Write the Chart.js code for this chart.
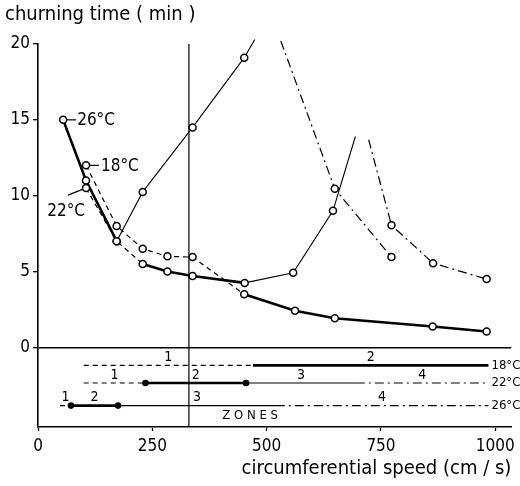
<!DOCTYPE html>
<html><head><meta charset="utf-8">
<script src="https://cdn.jsdelivr.net/npm/chart.js@4.4.1/dist/chart.umd.min.js"></script>
<style>html,body{margin:0;padding:0;background:#fff}</style>
</head><body>
<canvas id="c" width="520" height="486"></canvas>
<script>
const FONT = '"DejaVu Sans Condensed", "DejaVu Sans", sans-serif';

// Axis ticks
const xTicks = [0, 250, 500, 750, 1000];
const yTicks = [0, 5, 10, 15, 20];

// 18 °C
const speed18 = [105, 172, 229, 283, 338, 451, 562, 649, 863, 981];
const time18  = [12.0, 8.0, 6.5, 6.0, 5.95, 3.5, 2.42, 1.92, 1.38, 1.05];
// 22 °C, zones 1-3 (runs off upward)
const speed22a = [105, 172, 229, 283, 338, 452, 558, 645];
const time22a  = [10.5, 7.0, 5.5, 5.0, 4.7, 4.25, 4.92, 9.0];
const tail22a  = [694, 13.9];
// 22 °C, zone 4 (comes down from above)
const head22b  = [723, 13.7];
const speed22b = [773, 864, 981];
const time22b  = [8.05, 5.55, 4.5];
// 26 °C, zones 1-3
const speed26a = [55, 105, 172, 229, 338, 451];
const time26a  = [15.0, 11.0, 7.0, 10.25, 14.5, 19.1];
const tail26a  = [474, 20.3];
// 26 °C, zone 4
const head26b  = [531, 20.2];
const speed26b = [649, 773];
const time26b  = [10.45, 5.95];

// Zone boundaries (cm/s)
const zones18 = [100, 470, 985];
const zones22 = [100, 235, 455, 695, 985];
const zones26 = [48, 72, 175, 520, 985];
const dividerSpeed = 330;

const zoneStyle = {
  1: {w: 1.2, d: [5, 4]},
  2: {w: 2.6, d: []},
  3: {w: 1.1, d: []},
  4: {w: 1.2, d: [9, 4, 2, 4]}
};
function zoneOf(b, x) { for (let i = 1; i < b.length; i++) { if (x <= b[i]) return i; } return b.length - 1; }

function pts(xs, ys, head, tail) {
  const a = xs.map((v, i) => ({x: v, y: ys[i], m: true}));
  if (head) a.unshift({x: head[0], y: head[1], m: false});
  if (tail) a.push({x: tail[0], y: tail[1], m: false});
  return a;
}
function curve(data, bounds) {
  const mid = c => (c.p0.parsed.x + c.p1.parsed.x) / 2;
  return {
    data, borderColor: '#000', borderWidth: 1.2,
    pointRadius: c => (c.raw && c.raw.m) ? 3.5 : 0,
    pointHoverRadius: 0,
    pointBorderWidth: 1.5, pointBorderColor: '#000', pointBackgroundColor: '#fff',
    segment: {
      borderWidth: c => zoneStyle[zoneOf(bounds, mid(c))].w,
      borderDash: c => zoneStyle[zoneOf(bounds, mid(c))].d
    },
    clip: false, tension: 0, fill: false
  };
}
function zoneRow(bounds, rowY, dotZone) {
  const out = [];
  for (let i = 1; i < bounds.length; i++) {
    const s = zoneStyle[i];
    out.push({
      data: [{x: bounds[i - 1], y: rowY}, {x: bounds[i], y: rowY}],
      borderColor: '#000', borderWidth: s.w, borderDash: s.d,
      pointRadius: dotZone === i ? 2 : 0, pointBackgroundColor: '#000', pointBorderColor: '#000',
      clip: false, fill: false
    });
  }
  return out;
}
const row18 = -1.19, row22 = -2.35, row26 = -3.84;

const datasets = [
  {data: [{x: dividerSpeed, y: 20}, {x: dividerSpeed, y: -5.25}], borderColor: '#000', borderWidth: 1.2, pointRadius: 0, clip: false},
  ...zoneRow(zones18, row18, 0),
  ...zoneRow(zones22, row22, 2),
  ...zoneRow(zones26, row26, 2),
  curve(pts(speed18, time18), zones18),
  curve(pts(speed22a, time22a, null, tail22a), zones22),
  curve(pts(speed22b, time22b, head22b, null), zones22),
  curve(pts(speed26a, time26a, null, tail26a), zones26),
  curve(pts(speed26b, time26b, head26b, null), zones26)
];

const annot = {
  id: 'annot',
  afterDatasetsDraw(chart) {
    const {ctx, scales: {x, y}} = chart;
    ctx.save();
    ctx.fillStyle = '#000'; ctx.strokeStyle = '#000'; ctx.lineWidth = 1.2;
    const line = (x1, y1, x2, y2) => { ctx.beginPath(); ctx.moveTo(x1, y1); ctx.lineTo(x2, y2); ctx.stroke(); };
    // temperature labels at curve starts
    ctx.font = '17px ' + FONT; ctx.textBaseline = 'middle';
    let px = x.getPixelForValue(speed26a[0]), py = y.getPixelForValue(time26a[0]);
    line(px + 4, py, px + 13, py); ctx.textAlign = 'left'; ctx.fillText('26°C', px + 14, py + 1);
    px = x.getPixelForValue(speed18[0]); py = y.getPixelForValue(time18[0]);
    line(px + 4, py, px + 13, py); ctx.fillText('18°C', px + 15, py + 1);
    px = x.getPixelForValue(speed22a[0]); py = y.getPixelForValue(time22a[0]);
    line(px - 3, py + 1, px - 18, py + 7); ctx.textAlign = 'right'; ctx.fillText('22°C', px - 1, py + 23);
    // zone numbers
    ctx.font = '14px ' + FONT; ctx.textAlign = 'center';
    [[zones18, row18], [zones22, row22], [zones26, row26]].forEach(([b, r]) => {
      const ry = y.getPixelForValue(r);
      for (let i = 1; i < b.length; i++) {
        ctx.fillText(String(i), x.getPixelForValue((b[i - 1] + b[i]) / 2), ry - 8);
      }
    });
    ctx.font = '13px ' + FONT;
    ctx.fillText('Z O N E S', x.getPixelForValue(464), y.getPixelForValue(-4.52));
    // row temperature labels
    ctx.textAlign = 'left';
    const rx = x.getPixelForValue(985) + 3;
    ctx.fillText('18°C', rx, y.getPixelForValue(row18));
    ctx.fillText('22°C', rx, y.getPixelForValue(row22));
    ctx.fillText('26°C', rx, y.getPixelForValue(row26));
    ctx.restore();
  }
};

new Chart(document.getElementById('c'), {
  type: 'line',
  data: {datasets},
  plugins: [annot],
  options: {
    responsive: false, animation: false, devicePixelRatio: 1,
    layout: {padding: {left: 5, right: 7, top: 0, bottom: 4}},
    plugins: {
      legend: {display: false}, tooltip: {enabled: false},
      title: {display: true, text: 'churning time ( min )', align: 'start', color: '#000',
        font: {family: FONT, size: 20, weight: 'normal'}, padding: {top: 3, bottom: 17}}
    },
    scales: {
      x: {
        type: 'linear', min: 0, max: 1035,
        afterBuildTicks: s => { s.ticks = xTicks.map(v => ({value: v})); },
        afterFit: s => { s.height = 55; },
        ticks: {color: '#000', font: {family: FONT, size: 17}, padding: 5, maxRotation: 0,
          callback: v => String(v)},
        grid: {drawOnChartArea: false, tickLength: 4, tickColor: '#000', tickWidth: 1.3},
        border: {color: '#000', width: 1.6},
        title: {display: true, text: 'circumferential speed (cm / s)', align: 'end', color: '#000',
          font: {family: FONT, size: 20}, padding: {top: 0, bottom: 1}}
      },
      y: {
        type: 'linear', min: -5.25, max: 20,
        afterBuildTicks: s => { s.ticks = yTicks.map(v => ({value: v})); },
        afterFit: s => { s.width = 33; },
        ticks: {color: '#000', font: {family: FONT, size: 17}, padding: 3, callback: v => String(v)},
        grid: {color: c => (c.tick && c.tick.value === 0) ? '#000' : 'rgba(0,0,0,0)', lineWidth: 1.4,
          tickLength: 5, tickColor: '#000', tickWidth: 1.3},
        border: {color: '#000', width: 1.6}
      }
    }
  }
});
</script>
</body></html>
